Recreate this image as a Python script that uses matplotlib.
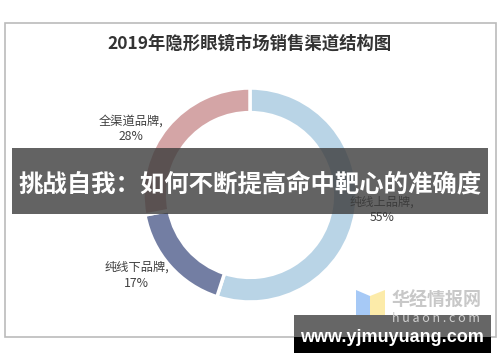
import numpy as np
import matplotlib.pyplot as plt
from matplotlib.patches import Rectangle, Polygon

plt.rcParams['font.family'] = ['Noto Sans CJK SC', 'DejaVu Sans']

# Data
title = '2019年隐形眼镜市场销售渠道结构图'
channels = ['纯线上品牌', '纯线下品牌', '全渠道品牌']
shares = [55, 17, 28]
colors = ['#B9D4E6', '#737EA3', '#D4A5A6']
label_pos = [(1.23, -0.14), (-1.06, -0.75), (-1.11, 0.62)]

W, H = 500, 362
fig = plt.figure(figsize=(W / 100, H / 100), dpi=100)
fig.patch.set_facecolor('white')

# background axes in pixel coords
bg = fig.add_axes([0, 0, 1, 1])
bg.set_xlim(0, W)
bg.set_ylim(H, 0)
bg.axis('off')
bg.add_patch(Rectangle((5, 23), 491, 314, facecolor='white', edgecolor='#BBBBBB', lw=1.2))
bg.text(250, 44, title, ha='center', va='center', fontsize=12.5, fontweight='bold', color='#333333')

# donut
cx, cy, r = 250, 195, 107
ax = fig.add_axes([(cx - r) / W, (H - cy - r) / H, 2 * r / W, 2 * r / H])
ax.pie(shares, colors=colors, startangle=90, counterclock=False, radius=1,
       wedgeprops=dict(width=0.23, edgecolor='white', linewidth=2.5))
ax.set_xlim(-1, 1)
ax.set_ylim(-1, 1)
ax.set_aspect('equal')
ax.axis('off')
for name, val, (lx, ly) in zip(channels, shares, label_pos):
    ax.text(lx, ly, f'{name},\n{val}%', ha='center', va='center', fontsize=8.8,
            color='#404040', linespacing=1.3, clip_on=False)

# overlay axes on top
ov = fig.add_axes([0, 0, 1, 1])
ov.set_xlim(0, W)
ov.set_ylim(H, 0)
ov.axis('off')
ov.patch.set_alpha(0)

# watermark
ov.add_patch(Polygon([(356, 290), (370, 296), (370, 322), (356, 316)], closed=True,
                     facecolor='#9CC3F5', edgecolor='none', alpha=0.9))
ov.add_patch(Polygon([(370, 296), (385, 290), (385, 316), (370, 322)], closed=True,
                     facecolor='#FCE9A0', edgecolor='none', alpha=0.9))
ov.text(436, 300, '华经情报网', ha='center', va='center', fontsize=13, fontweight='bold', color='#C8C8C8')
ov.text(436, 318, 'h u a o n . c o m', ha='center', va='center', fontsize=9, color='#D0D0D0')

# banner
ov.add_patch(Rectangle((12, 148), 476, 66, facecolor='#3C3C3C', edgecolor='none', alpha=0.8))
ov.text(250, 184, '挑战自我：如何不断提高命中靶心的准确度', ha='center', va='center',
        fontsize=17.6, fontweight='bold', color='white')

# url box
ov.add_patch(Rectangle((294, 315), 197, 38, facecolor='black', edgecolor='none'))
ov.add_patch(Rectangle((294, 315), 197, 22, facecolor='#666666', edgecolor='none'))
ov.text(392, 337, 'www.yjmuyuang.com', ha='center', va='center', fontsize=13,
        fontweight='bold', color='white', family='Liberation Sans')

fig.savefig('out.png', dpi=100)
